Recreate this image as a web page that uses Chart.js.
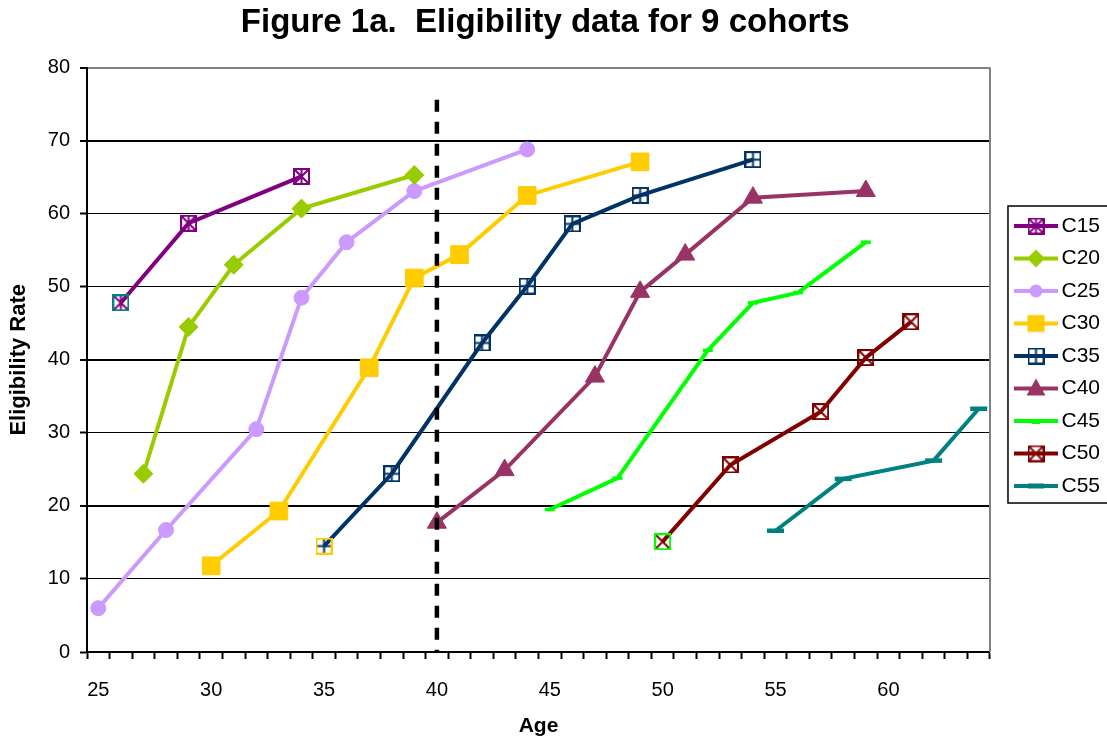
<!DOCTYPE html>
<html><head><meta charset="utf-8">
<script src="https://cdn.jsdelivr.net/npm/chart.js@4/dist/chart.umd.min.js"></script>
<style>html,body{margin:0;padding:0;background:#fff;overflow:hidden}canvas{display:block;background:#fff}</style>
</head><body>
<canvas id="c" width="1107" height="740"></canvas>
<script>
// ---- data ----
const seriesNames = ['C15','C20','C25','C30','C35','C40','C45','C50','C55'];
const agesC15 = [26, 29, 34];
const valsC15 = [47.8, 58.7, 65.1];
const agesC20 = [27, 29, 31, 34, 39];
const valsC20 = [24.4, 44.5, 53.0, 60.7, 65.3];
const agesC25 = [25, 28, 32, 34, 36, 39, 44];
const valsC25 = [6.0, 16.7, 30.5, 48.5, 56.1, 63.1, 68.8];
const agesC30 = [30, 33, 37, 39, 41, 44, 49];
const valsC30 = [11.8, 19.3, 38.9, 51.2, 54.4, 62.5, 67.1];
const agesC35 = [35, 38, 42, 44, 46, 49, 54];
const valsC35 = [14.5, 24.4, 42.3, 50.1, 58.6, 62.5, 67.4];
const agesC40 = [40, 43, 47, 49, 51, 54, 59];
const valsC40 = [17.7, 24.9, 37.7, 49.3, 54.4, 62.2, 63.1];
const agesC45 = [45, 48, 52, 54, 56, 59];
const valsC45 = [19.5, 23.8, 41.3, 47.8, 49.2, 56.1];
const agesC50 = [50, 53, 57, 59, 61];
const valsC50 = [15.1, 25.6, 32.9, 40.3, 45.2];
const agesC55 = [55, 58, 62, 64];
const valsC55 = [16.6, 23.7, 26.2, 33.3];
const xTickLabels = ['25','30','35','40','45','50','55','60'];
const cutoffAge = 40;
const cutoffLine = [75.6, 0];

const seriesAges = [agesC15, agesC20, agesC25, agesC30, agesC35, agesC40, agesC45, agesC50, agesC55];
const seriesVals = [valsC15, valsC20, valsC25, valsC30, valsC35, valsC40, valsC45, valsC50, valsC55];
const colors = ['#800080','#99CC00','#CC99FF','#FFCC00','#003366','#993366','#00FF00','#800000','#008080'];

// ---- marker images ----
function boxMarker(size, boxColor, innerColor, kind) {
  const c = document.createElement('canvas'); c.width = c.height = size;
  const g = c.getContext('2d');
  const lw = 2, a = 1, b = size - 1, m = size / 2;
  g.lineWidth = lw; g.strokeStyle = innerColor; g.beginPath();
  if (kind.includes('x')) { g.moveTo(a, a); g.lineTo(b, b); g.moveTo(b, a); g.lineTo(a, b); }
  if (kind.includes('|')) { g.moveTo(m, a); g.lineTo(m, b); }
  if (kind.includes('-')) { g.moveTo(a, m); g.lineTo(b, m); }
  g.stroke();
  g.strokeStyle = boxColor; g.strokeRect(a, a, size - 2, size - 2);
  return c;
}
const mC15 = boxMarker(17, '#800080', '#800080', 'x|');
const mC15a = boxMarker(17, '#008080', '#800080', 'x|');
const mC35 = boxMarker(17, '#003366', '#003366', '|-');
const mC35a = boxMarker(17, '#FFCC00', '#003366', '|-');
const mC50 = boxMarker(17, '#800000', '#800000', 'x');
const mC50a = boxMarker(17, '#00FF00', '#800000', 'x');

function legendIcon(i) {
  const W = 46, H = 22, cx = 23, cy = 11;
  const c = document.createElement('canvas'); c.width = W; c.height = H;
  const g = c.getContext('2d');
  const col = colors[i];
  g.strokeStyle = col; g.lineWidth = 4; g.beginPath(); g.moveTo(1, cy); g.lineTo(W - 1, cy); g.stroke();
  g.fillStyle = col;
  if (i === 0) g.drawImage(mC15, cx - 8.5, cy - 8.5);
  if (i === 1) { g.beginPath(); g.moveTo(cx - 9, cy); g.lineTo(cx, cy - 9); g.lineTo(cx + 9, cy); g.lineTo(cx, cy + 9); g.closePath(); g.fill(); }
  if (i === 2) { g.beginPath(); g.arc(cx, cy, 6.5, 0, Math.PI * 2); g.fill(); }
  if (i === 3) g.fillRect(cx - 8.5, cy - 8.5, 17, 17);
  if (i === 4) g.drawImage(mC35, cx - 8.5, cy - 8.5);
  if (i === 5) { g.beginPath(); g.moveTo(cx, cy - 10); g.lineTo(cx + 9.5, cy + 7); g.lineTo(cx - 9.5, cy + 7); g.closePath(); g.fill(); }
  if (i === 6) g.fillRect(cx - 4, cy, 8, 3);
  if (i === 7) g.drawImage(mC50, cx - 8.5, cy - 8.5);
  if (i === 8) g.fillRect(cx - 8, cy - 2.5, 16, 5);
  return c;
}
const legendIcons = seriesNames.map((_, i) => legendIcon(i));

// ---- point styling per series (style only) ----
const pointStyles = [
  (n) => Array.from({length: n}, (_, k) => k === 0 ? mC15a : mC15),
  () => 'rectRot', () => 'circle', () => 'rect',
  (n) => Array.from({length: n}, (_, k) => k === 0 ? mC35a : mC35),
  () => 'triangle', () => 'line',
  (n) => Array.from({length: n}, (_, k) => k === 0 ? mC50a : mC50),
  () => 'line'
];
const pointRadii = [8, 9.5, 7.5, 12.5, 8, 11, 5, 8, 8.5];
const pointBorderWidths = [1, 1, 1, 1, 1, 1, 3.5, 1, 4.5];

const datasets = seriesNames.map((name, i) => ({
  label: name,
  data: seriesAges[i].map((a, k) => ({x: a, y: seriesVals[i][k]})),
  borderColor: colors[i],
  backgroundColor: colors[i],
  pointBackgroundColor: colors[i],
  pointBorderColor: colors[i],
  borderWidth: 4,
  pointStyle: pointStyles[i](seriesAges[i].length),
  pointRadius: pointRadii[i],
  pointBorderWidth: pointBorderWidths[i],
  tension: 0,
  fill: false,
  clip: false
}));
datasets.push({
  label: 'cutoff',
  data: cutoffLine.map(v => ({x: cutoffAge, y: v})),
  borderColor: '#000',
  borderWidth: 4.5,
  borderDash: [12, 10],
  pointRadius: 0,
  fill: false,
  order: -1
});

const FONT = "'Liberation Sans', Arial, sans-serif";

const decor = {
  id: 'decor',
  afterLayout(chart) {
    const lg = chart.legend;
    lg.left += 19.5; lg.right += 19.5; lg.top -= 14; lg.bottom -= 14;
  },
  beforeDatasetsDraw(chart) {
    const {ctx, chartArea: a} = chart;
    ctx.save();
    ctx.strokeStyle = '#808080'; ctx.lineWidth = 2;
    ctx.beginPath(); ctx.moveTo(a.right, a.top); ctx.lineTo(a.right, a.bottom); ctx.stroke();
    ctx.restore();
  },
  afterDraw(chart) {
    const hb = chart.legend.legendHitBoxes;
    if (!hb || !hb.length) return;
    const first = hb[0], last = hb[hb.length - 1];
    const ctx = chart.ctx;
    ctx.save();
    ctx.strokeStyle = '#000'; ctx.lineWidth = 1.5;
    const x0 = first.left - 13, y0 = first.top - 9.5, y1 = last.top + last.height + 6.5;
    ctx.strokeRect(x0, y0, 1200 - x0, y1 - y0);
    ctx.restore();
  }
};

new Chart(document.getElementById('c'), {
  type: 'line',
  data: { datasets },
  plugins: [decor],
  options: {
    responsive: false,
    animation: false,
    devicePixelRatio: 1,
    layout: { padding: { left: 0, right: 16.5, top: 0, bottom: 0 } },
    plugins: {
      tooltip: { enabled: false },
      title: {
        display: true,
        text: 'Figure 1a.  Eligibility data for 9 cohorts',
        color: '#000',
        font: { family: FONT, size: 33, weight: 'bold' },
        padding: { top: 3, bottom: 25 }
      },
      legend: {
        position: 'right',
        labels: {
          color: '#000',
          font: { family: FONT, size: 21 },
          usePointStyle: true,
          pointStyleWidth: 30,
          padding: 11.5,
          filter: (item) => item.datasetIndex < seriesNames.length,
          generateLabels(chart) {
            const items = Chart.defaults.plugins.legend.labels.generateLabels(chart);
            return items.map(it => Object.assign(it, { pointStyle: legendIcons[it.datasetIndex] || it.pointStyle }));
          }
        }
      }
    },
    scales: {
      x: {
        type: 'linear',
        min: 24.5,
        max: 64.5,
        afterBuildTicks(axis) {
          const t = [];
          for (let v = 24.5; v <= 64.5; v += 1) t.push({value: v});
          axis.ticks = t;
        },
        afterFit(s) { s.height = 88; },
        ticks: {
          autoSkip: false, maxRotation: 0, minRotation: 0,
          labelOffset: 11.3,
          padding: 19,
          color: '#000',
          font: { family: FONT, size: 20 },
          callback(v) { const s = String(Math.round(v + 0.5)); return (Math.abs(v + 0.5 - Math.round(v + 0.5)) < 1e-6 && xTickLabels.includes(s)) ? s : ''; }
        },
        grid: { drawOnChartArea: false, drawTicks: true, tickLength: 7, tickColor: '#000', tickWidth: 2, color: '#000' },
        border: { color: '#000', width: 2 },
        title: { display: true, text: 'Age', color: '#000', font: { family: FONT, size: 21, weight: 'bold' }, padding: { top: 0, bottom: 1 } }
      },
      y: {
        min: 0, max: 80,
        afterFit(s) { s.width = 87; },
        ticks: { stepSize: 10, color: '#000', padding: 10, font: { family: FONT, size: 20 } },
        grid: {
          color: (c) => c.tick && c.tick.value === 80 ? '#808080' : '#000',
          lineWidth: (c) => { const v = c.tick ? c.tick.value : 0; return (v === 20 || v === 40 || v === 70 || v === 80) ? 2 : 1; },
          tickLength: 7, tickColor: '#000', tickWidth: 2
        },
        border: { color: '#000', width: 2 },
        title: { display: true, text: 'Eligibility Rate', color: '#000', font: { family: FONT, size: 22, weight: 'bold' }, padding: { top: 6, bottom: 0 } }
      }
    }
  }
});
</script>
</body></html>
